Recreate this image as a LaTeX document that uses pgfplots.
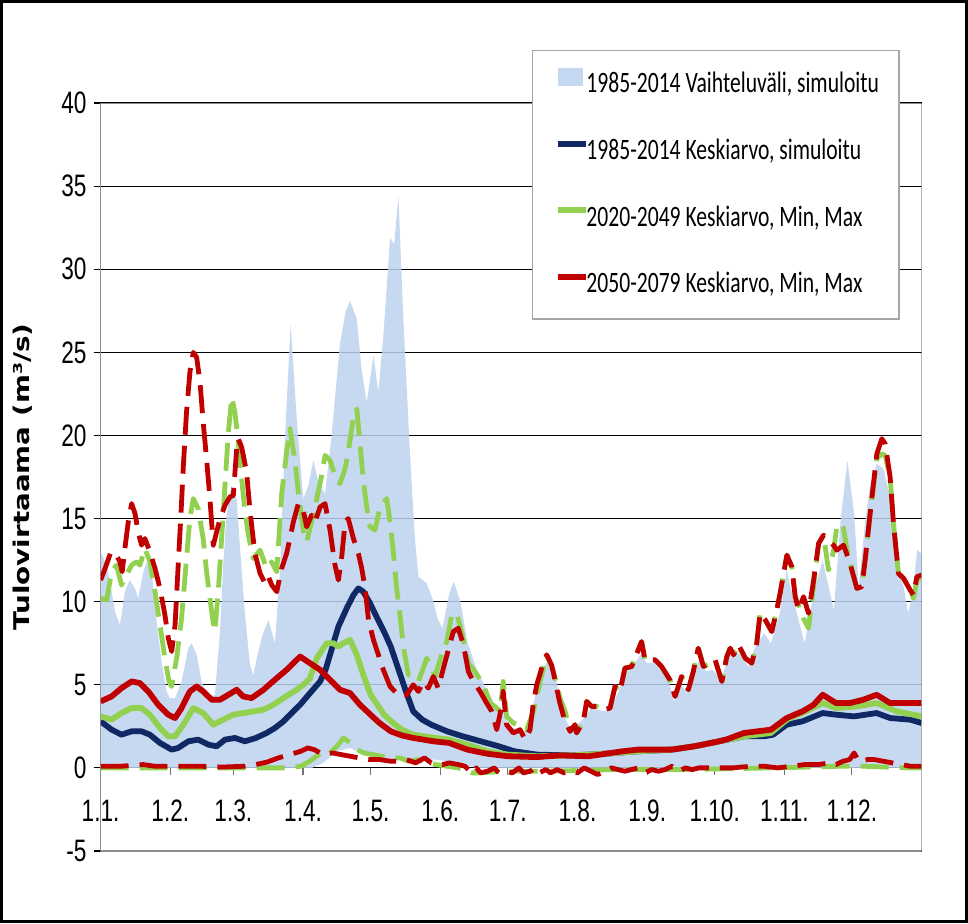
\documentclass[border=0pt]{standalone}
\usepackage{pgfplots}
\pgfplotsset{compat=1.18}
\usepgfplotslibrary{fillbetween}
\usepackage{pgfplotstable}
\usepackage{fontspec}
\setmainfont{Liberation Sans}
\newfontfamily\tickfont[FakeStretch=0.73]{Liberation Sans}
\newfontfamily\legfont[FakeStretch=0.73]{Carlito}
\newfontfamily\labfont{DejaVu Sans}
\definecolor{bandblue}{RGB}{188,210,239}
\definecolor{navy}{RGB}{16,40,100}
\definecolor{lgreen}{RGB}{146,208,80}
\definecolor{dred}{RGB}{192,0,0}

\pgfplotstableread[row sep=\\]{x y\\
1 13.0\\ 3.7 12.2\\ 5.9 10.6\\ 7.4 9.4\\ 9.6 8.6\\ 11.8 10.6\\ 14 11.3\\ 16.3 10.8\\ 17.7 10.2\\ 20 11.8\\
21.5 12.4\\ 23.7 11.8\\ 25.9 8.8\\ 28.1 6.4\\ 30.3 4.6\\ 31.8 4.2\\ 34.1 4.2\\ 37 5.2\\ 40 7.2\\ 41.5 7.5\\
43.7 6.8\\ 45.9 5.2\\ 48.9 4.2\\ 51.8 4.4\\ 54.1 8.2\\ 55.5 12.2\\ 57 15.2\\ 59.2 17.0\\ 61.5 16.2\\ 63 13.2\\
65.2 9.2\\ 67.4 6.2\\ 68.9 5.6\\ 71.1 7.0\\ 73 8.0\\ 75.6 8.9\\ 78.5 7.5\\ 80.8 12\\ 83 20\\ 85.5 26.7\\
88.2 21\\ 91.1 16.2\\ 93.4 17\\ 95.6 18.5\\ 97.8 17.2\\ 100.8 16.5\\ 103.7 20\\ 107.4 25.5\\ 110 27.5\\ 111.9 28.1\\
114.9 27\\ 117 24\\ 119.3 22\\ 122.3 24.8\\ 124.5 22.6\\ 126.7 26\\ 129.7 31.9\\ 131.5 31.5\\ 133.4 34.4\\ 135.6 27\\
138.5 19\\ 140.8 13.7\\ 142.3 11.5\\ 146 11.1\\ 149 10\\ 151 8.9\\ 153 8.4\\ 156 10.5\\ 158 11.2\\ 161 10\\
164 7.6\\ 168 6.0\\ 172.6 4.7\\ 175 4.2\\ 177 3.4\\ 180 3.6\\ 182 2.6\\ 186 2.3\\ 190 2.2\\ 193 3.5\\
196 5.5\\ 200 6.5\\ 203 5.8\\ 206 3.4\\ 210 2.3\\ 212 2.5\\ 216 3.0\\ 219 3.6\\ 222 3.5\\ 225 3.4\\
228 3.6\\ 231 4.5\\ 234 5.7\\ 237 6.0\\ 241 6.8\\ 244 6.3\\ 248 6.3\\ 251 5.9\\ 254 5.0\\ 256 4.0\\
259 5.0\\ 262 4.5\\ 265 5.5\\ 267 6.5\\ 270 5.8\\ 273 5.9\\ 277 5.3\\ 280 6.7\\ 285 6.9\\ 289 6.1\\
292 7.3\\ 296 8.1\\ 299 7.5\\ 303 9.3\\ 306 11.9\\ 309 10.1\\ 314 7.5\\ 318 10.5\\ 322 12.5\\ 327 9.5\\
330 14.9\\ 333 18.5\\ 336 15.3\\ 338 10.9\\ 341 14.9\\ 343 16.9\\ 346 18.3\\ 349 18.0\\ 352 16.3\\ 355 12.1\\
358 10.9\\ 360 9.3\\ 362 10.5\\ 364 13.1\\ 366 12.9\\
}\bandup

\pgfplotstableread[row sep=\\]{x y\\
1 0\\ 95 0\\ 100 0.3\\ 106 1.0\\ 112 1.2\\ 118 0.8\\ 125 0.6\\ 135 0.5\\ 150 0.5\\ 160 0.3\\ 168 0\\ 366 0\\
}\bandlo

\pgfplotstableread[row sep=\\]{x y\\
1 2.8\\ 5.9 2.3\\ 10.3 2.0\\ 14.8 2.2\\ 19.2 2.2\\ 22.9 2.0\\ 27.4 1.5\\ 32.6 1.1\\ 35.5 1.2\\ 40 1.6\\
44.4 1.7\\ 48.9 1.4\\ 52.6 1.3\\ 56.3 1.7\\ 60.7 1.8\\ 65.2 1.6\\ 70 1.8\\ 74.8 2.1\\ 78.5 2.4\\ 82.3 2.8\\
86 3.3\\ 89.7 3.8\\ 94.1 4.5\\ 98.6 5.2\\ 101 5.9\\ 103 6.8\\ 106.7 8.5\\ 110.4 9.6\\ 113.4 10.4\\ 115.6 10.8\\
117.8 10.6\\ 120.8 9.9\\ 124 9.0\\ 127 8.2\\ 130 7.3\\ 133 6.1\\ 137 4.5\\ 140 3.4\\ 144 2.9\\ 148 2.6\\
155 2.2\\ 162 1.9\\ 170 1.6\\ 178 1.3\\ 185 1.0\\ 195 0.8\\ 210 0.75\\ 225 0.85\\ 240 1.0\\ 255 1.1\\
265 1.3\\ 276 1.6\\ 287 1.9\\ 296 1.9\\ 300 2.0\\ 306 2.6\\ 313 2.8\\ 322 3.3\\ 328 3.2\\ 336 3.1\\
346 3.3\\ 352 3.0\\ 361 2.9\\ 366 2.7\\
}\bluemean

\pgfplotstableread[row sep=\\]{x y\\
1 3.1\\ 5.9 2.9\\ 10.3 3.3\\ 14.8 3.6\\ 19.2 3.6\\ 22.9 3.2\\ 27.4 2.4\\ 31.1 1.9\\ 34.1 1.9\\ 37.8 2.6\\
42.2 3.6\\ 46.6 3.3\\ 51.1 2.6\\ 55.5 2.9\\ 60 3.2\\ 64.4 3.3\\ 69 3.4\\ 73.4 3.5\\ 77.8 3.8\\ 82.3 4.2\\
88.2 4.7\\ 92 5.1\\ 94.1 5.4\\ 97.1 6.6\\ 101.5 7.5\\ 104.5 7.5\\ 106.7 7.3\\ 108.9 7.5\\ 111.9 7.7\\ 114.9 6.8\\
117.8 5.6\\ 121 4.4\\ 124 3.8\\ 127 3.2\\ 131 2.7\\ 135 2.3\\ 140 2.0\\ 145 1.9\\ 150 1.8\\ 156 1.7\\
164 1.4\\ 173 1.0\\ 182 0.8\\ 195 0.7\\ 210 0.75\\ 225 0.85\\ 240 1.0\\ 255 1.1\\ 265 1.3\\ 276 1.6\\
287 1.9\\ 299 2.1\\ 306 2.9\\ 313 3.3\\ 322 3.9\\ 328 3.6\\ 337 3.7\\ 346 3.9\\ 355 3.4\\ 366 3.1\\
}\greenmean

\pgfplotstableread[row sep=\\]{x y\\
1 4.0\\ 5.9 4.3\\ 10.3 4.8\\ 14.8 5.2\\ 18.5 5.1\\ 22.2 4.6\\ 26.6 3.8\\ 31.1 3.2\\ 34.1 3.0\\ 37 3.6\\
40.7 4.6\\ 43.7 4.9\\ 46.6 4.6\\ 50.4 4.1\\ 54.1 4.1\\ 57.8 4.4\\ 61.5 4.7\\ 64.4 4.3\\ 68.1 4.2\\ 73.4 4.7\\
79.3 5.4\\ 83.7 5.9\\ 86.7 6.3\\ 89.7 6.7\\ 94.1 6.3\\ 98.6 5.9\\ 103 5.3\\ 107.4 4.7\\ 111.9 4.5\\ 116.3 3.8\\
121 3.2\\ 125 2.7\\ 130 2.2\\ 135 1.95\\ 140 1.8\\ 149 1.6\\ 156 1.5\\ 164 1.1\\ 173 0.85\\ 182 0.7\\
195 0.65\\ 205 0.75\\ 218 0.7\\ 233 1.0\\ 240 1.1\\ 255 1.1\\ 265 1.3\\ 276 1.6\\ 279 1.7\\ 287 2.1\\
299 2.3\\ 306 3.0\\ 313 3.4\\ 318 3.8\\ 322 4.4\\ 328 3.9\\ 334 3.9\\ 340 4.1\\ 346 4.4\\ 352 3.9\\
361 3.9\\ 366 3.9\\
}\redmean

\pgfplotstableread[row sep=\\]{x y\\
1 11.3\\ 3 12.0\\ 5.6 13.0\\ 8 12.8\\ 9.6 12.4\\ 10.6 11.8\\ 11.8 13.2\\ 13.3 14.8\\ 14.8 15.9\\ 16.3 15.3\\
17.7 14.2\\ 19.2 13.4\\ 20.7 13.8\\ 22.9 13.0\\ 25.2 12.0\\ 27.4 10.8\\ 29.6 9.2\\ 31.1 7.8\\ 32.6 7.0\\ 34.1 8.6\\
35.5 12.2\\ 36.7 15.2\\ 37.8 18.2\\ 39.2 21.4\\ 40.7 23.8\\ 42.2 25.0\\ 43.7 24.7\\ 45.2 23.2\\ 46.6 20.8\\ 48.1 18.6\\
49.6 16.2\\ 51.1 13.4\\ 52.6 14.2\\ 54.1 15.0\\ 56.3 15.8\\ 58.5 16.3\\ 60 16.4\\ 61.5 19.2\\ 62.2 19.8\\ 63.7 19.3\\
65.9 17.8\\ 67.4 15.5\\ 69.6 12.9\\ 71.9 11.7\\ 74.1 11.1\\ 75.6 11.5\\ 77.1 11.0\\ 79.3 10.6\\ 81.5 12.0\\ 83.7 12.9\\
85.2 13.8\\ 86.7 14.8\\ 88.9 15.9\\ 91.1 15.5\\ 92.6 14.5\\ 94.8 15.2\\ 96.3 14.8\\ 98.6 15.7\\ 100.8 15.9\\ 103 14.3\\
105.2 12.2\\ 106.7 11.3\\ 108.2 12.7\\ 109.7 14.8\\ 111.1 15.0\\ 113.4 13.8\\ 115.6 12.9\\ 117.1 12.0\\ 118.6 10.8\\ 120.1 8.9\\
122.3 7.7\\ 124.5 6.8\\ 126.7 5.9\\ 129.7 4.9\\ 132.6 4.5\\ 134.1 4.3\\ 137.1 4.4\\ 140 5.0\\ 142.3 4.6\\ 144.5 5.2\\
146.7 4.8\\ 148.9 5.5\\ 151.1 4.8\\ 153.4 6.0\\ 155.6 7.1\\ 157.8 8.2\\ 160.0 8.4\\ 162.3 7.4\\ 164.5 5.8\\ 166.7 5.2\\
169.7 4.6\\ 172.6 3.9\\ 174.9 3.4\\ 177.1 2.3\\ 179.3 3.7\\ 180.0 4.6\\ 181.5 2.6\\ 184.5 2.1\\ 187.5 2.3\\ 189.7 1.7\\
191.9 2.3\\ 193.4 3.9\\ 194.9 5.0\\ 197.1 6.0\\ 199.3 6.8\\ 201.5 6.2\\ 203 5.3\\ 205 4.0\\ 207 3.0\\ 209.7 2.2\\
211.9 2.6\\ 212.6 2.1\\ 215.6 2.8\\ 217.1 4.0\\ 219.3 3.7\\ 221.5 3.7\\ 224.5 3.5\\ 227.5 3.6\\ 229.7 4.9\\ 231.9 4.6\\
234.1 6.0\\ 237.1 6.1\\ 241.5 7.6\\ 243 6.5\\ 247.5 6.5\\ 250.4 6.1\\ 254.1 5.3\\ 256.4 4.3\\ 259.3 5.5\\ 262.3 4.7\\
264.5 5.8\\ 266.7 7.2\\ 269 6.1\\ 272 6.3\\ 274.2 6.5\\ 277.2 5.2\\ 279.4 6.7\\ 280.9 7.2\\ 282.4 6.8\\ 284.6 7.4\\
287.6 6.6\\ 290.5 6.3\\ 292.7 7.5\\ 294.2 9.3\\ 296.5 8.9\\ 299.4 8.2\\ 301.6 9.5\\ 303.1 10.5\\ 306.1 12.8\\ 308.3 12.1\\
309.8 10.3\\ 311.3 9.5\\ 313.5 10.3\\ 315.7 9.3\\ 318 11.3\\ 320.2 13.5\\ 322.4 14.0\\ 324.6 13.7\\ 326.8 13.4\\ 328.3 13.1\\
331.3 13.4\\ 334.2 12.3\\ 337.2 10.8\\ 339.4 10.9\\ 340.9 12.5\\ 343.1 15.3\\ 346.1 18.9\\ 348.3 19.8\\ 349.8 19.5\\ 352 17.5\\
353.5 14.7\\ 355.7 11.7\\ 358 11.4\\ 360.9 10.7\\ 362.4 10.4\\ 363.9 11.5\\ 366 11.6\\
}\redmax

\pgfplotstableread[row sep=\\]{x y\\
1 10.2\\ 3.7 10.1\\ 5.9 11.8\\ 8.1 12.2\\ 10.3 11.0\\ 12.5 11.6\\ 14.8 12.2\\ 17 12.4\\ 18.5 12.2\\ 20.7 13.2\\
22.9 12.4\\ 25.2 10.6\\ 27.4 8.6\\ 29.6 6.6\\ 31.4 5.2\\ 32.6 4.9\\ 34.8 6.6\\ 37 9.0\\ 39.2 12.6\\ 40.7 15.0\\
42.2 16.2\\ 44.4 15.6\\ 46.6 13.8\\ 48.1 11.8\\ 49.6 10.2\\ 51.1 8.7\\ 51.8 8.2\\ 53.3 10.6\\ 54.8 13.8\\ 56.3 17.0\\
57.8 20.2\\ 59.3 22.3\\ 60.7 21.4\\ 62.2 19.6\\ 63.7 17.4\\ 65.2 15.4\\ 66.7 14.0\\ 68.9 12.6\\ 71.9 13.1\\ 74.8 12.0\\
77 12.4\\ 79.3 11.8\\ 81.5 16.5\\ 83.7 19.0\\ 85.2 20.4\\ 87.4 18.5\\ 88.9 16.6\\ 91.1 14.3\\ 92.6 13.6\\ 94.8 14.8\\
97.1 16.2\\ 99.3 17.6\\ 100.8 18.8\\ 103 18.5\\ 105.2 17.6\\ 107.4 17.1\\ 109.7 18.0\\ 111.1 19.0\\ 113.4 21.1\\ 114.9 21.6\\
116.3 19.5\\ 117.8 17.3\\ 119.3 15.7\\ 120.8 14.5\\ 123 14.3\\ 125.2 15.7\\ 128.2 16.2\\ 129.7 14.8\\ 131.2 12.9\\ 132.6 10.8\\
134.1 9.2\\ 135.6 7.3\\ 137.8 5.6\\ 140 5.5\\ 142.3 5.2\\ 146 6.6\\ 148.2 6.0\\ 149.7 5.5\\ 152.6 6.8\\ 154.9 7.6\\
157.1 9.2\\ 159.3 9.3\\ 161.5 8.2\\ 164.5 6.3\\ 167.4 5.8\\ 171.2 5.0\\ 174.1 3.9\\ 176.3 3.7\\ 178.6 3.4\\ 180.0 5.2\\
181.5 3.1\\ 184.5 2.7\\ 188.2 2.5\\ 190.4 2.3\\ 193.4 3.4\\ 196.4 5.2\\ 199.3 6.8\\ 202.3 5.8\\ 205.2 4.2\\ 207.5 3.4\\
209.7 2.2\\ 211.9 2.6\\ 212.6 2.1\\ 215.6 2.8\\ 217.1 4.0\\ 219.3 3.7\\ 221.5 3.7\\ 224.5 3.5\\ 227.5 3.6\\ 229.7 4.9\\
231.9 4.6\\ 234.1 6.0\\ 237.1 6.1\\ 241.5 7.6\\ 243 6.5\\ 247.5 6.5\\ 250.4 6.1\\ 254.1 5.3\\ 256.4 4.3\\ 259.3 5.5\\
262.3 4.7\\ 264.5 5.8\\ 266.7 7.2\\ 269 6.1\\ 272 6.3\\ 274.2 6.5\\ 277.2 5.2\\ 279.4 6.7\\ 280.9 7.2\\ 282.4 6.8\\
284.6 7.4\\ 287.6 6.6\\ 290.5 6.3\\ 292.7 7.5\\ 294.2 9.3\\ 296.5 8.9\\ 299.4 8.2\\ 301.6 9.5\\ 303.1 10.5\\ 306.1 12.8\\
308.3 12.1\\ 309.8 10.3\\ 311.3 9.8\\ 313.5 9.0\\ 315.7 8.4\\ 318 11.0\\ 320.2 13.5\\ 322.4 14.0\\ 324.6 11.9\\ 326.8 13.0\\
328.3 14.5\\ 330 14.7\\ 331.3 14.4\\ 333 13.0\\ 334.2 12.3\\ 337.2 10.8\\ 339.4 10.9\\ 340.9 12.5\\ 343.1 15.3\\ 346.1 18.6\\
348.3 18.9\\ 349.8 18.8\\ 352 17.5\\ 353.5 14.7\\ 355.7 11.7\\ 358 11.4\\ 360.9 10.7\\ 362.4 10.2\\ 363.9 11.3\\ 366 11.5\\
}\greenmax

\pgfplotstableread[row sep=\\]{x y\\
1 0.1\\ 10 0.1\\ 15 0.15\\ 20 0.2\\ 25 0.1\\ 35 0.1\\ 45 0.1\\ 55 0.05\\ 65 0.1\\ 70 0.2\\
75 0.35\\ 80 0.6\\ 85 0.8\\ 90 1.0\\ 93 1.2\\ 96 1.1\\ 100 0.8\\ 104 0.9\\ 108 0.8\\ 112 0.7\\
116 0.6\\ 120 0.5\\ 125 0.5\\ 130 0.4\\ 134 0.4\\ 137 0.5\\ 141 0.3\\ 145 0.6\\ 148 0.3\\ 153 0.2\\
156 0.3\\ 160 0.2\\ 163 0.1\\ 166 -0.3\\ 168 0\\ 170 -0.3\\ 173 -0.2\\ 176 0.0\\ 178 -0.3\\ 181 -0.2\\
184 -0.3\\ 187 0.0\\ 189 -0.3\\ 192 -0.2\\ 194 0.0\\ 196 -0.3\\ 199 -0.1\\ 201 -0.3\\ 204 -0.1\\ 207 -0.3\\
210 -0.2\\ 213 -0.3\\ 216 0.0\\ 219 -0.2\\ 222 -0.4\\ 225 -0.2\\ 228 0.0\\ 231 -0.1\\ 234 -0.2\\ 237 -0.1\\
240 0.0\\ 243 -0.3\\ 246 -0.1\\ 249 -0.2\\ 252 -0.1\\ 255 0.1\\ 258 -0.2\\ 261 0.0\\ 264 -0.1\\ 267 0.0\\
272 0.0\\ 276 0.0\\ 282 0.0\\ 290 0.1\\ 296 0.1\\ 302 0.0\\ 308 0.1\\ 314 0.2\\ 320 0.2\\ 325 0.3\\
328 0.2\\ 331 0.4\\ 334 0.5\\ 336 0.9\\ 338 0.4\\ 342 0.5\\ 345 0.5\\ 349 0.4\\ 353 0.3\\ 357 0.2\\
361 0.1\\ 366 0.1\\
}\redmin

\pgfplotstableread[row sep=\\]{x y\\
1 0.0\\ 85 0.0\\ 90 0.1\\ 94 0.4\\ 97 0.7\\ 100 1.0\\ 103 0.9\\ 106 1.3\\ 109 1.8\\ 112 1.5\\
115 1.1\\ 118 0.9\\ 122 0.8\\ 126 0.7\\ 130 0.6\\ 134 0.6\\ 138 0.4\\ 142 0.5\\ 146 0.3\\ 150 0.2\\
155 0.1\\ 160 0.0\\ 166 -0.3\\ 170 -0.3\\ 180 -0.2\\ 200 -0.2\\ 230 -0.1\\ 260 -0.1\\ 300 0.0\\ 330 0.1\\
340 0.1\\ 350 0.05\\ 360 0.0\\ 366 0.0\\
}\greenmin

\begin{document}
\begin{tikzpicture}
\begin{axis}[
  name=ax,
  scale only axis,
  width=410.5pt, height=374pt,
  xmin=1, xmax=366, ymin=-5, ymax=40,
  axis x line*=middle, axis y line*=left,
  hide obscured x ticks=false, hide obscured y ticks=false,
  x axis line style={black, line width=0.6pt},
  y axis line style={black!45, line width=0.8pt},
  xtick={1,32,60,91,121,152,182,213,244,274,305,335},
  xticklabels={1.1.,1.2.,1.3.,1.4.,1.5.,1.6.,1.7.,1.8.,1.9.,1.10.,1.11.,1.12.},
  ytick={-5,0,5,10,15,20,25,30,35,40},
  yticklabels={-5,0,5,10,15,20,25,30,35,40},
  tick align=outside,
  major tick length=3.5pt,
  xtick style={black!55, line width=0.6pt},
  ytick style={black, line width=0.6pt},
  xticklabel style={font=\tickfont\fontsize{15.5}{18}\selectfont, anchor=north, yshift=-9pt},
  yticklabel style={font=\tickfont\fontsize{15.5}{18}\selectfont, anchor=east},
  ymajorgrids, xmajorgrids=false,
  major grid style={black, line width=0.55pt},
  ylabel={\scalebox{1}[0.78]{\labfont\bfseries\fontsize{13.9}{16}\selectfont Tulovirtaama (m³/s)}},
  ylabel style={at={(axis description cs:-0.0945,0.5)}, anchor=center},
  legend style={at={(0.5255,1.0709)}, anchor=north west, draw=black!35, line width=0.6pt, fill=white,
    font=\legfont\fontsize{14.8}{17}\selectfont, inner xsep=11pt, inner ysep=8.7pt, row sep=17.8pt,
    nodes={inner xsep=-1pt, inner ysep=1pt, text height=10pt, text depth=3.5pt}},
  legend cell align=left,
  legend image code/.code={\draw[#1] (0pt,4.6pt) -- (14pt,4.6pt);},
  every axis plot/.append style={line join=round},
]
\addplot[name path=up, draw=none, forget plot] table {\bandup};
\addplot[name path=lo, draw=none, forget plot] table {\bandlo};
\addplot[fill=bandblue, fill opacity=0.85, draw=none,
  legend image code/.code={\fill[bandblue, fill opacity=0.85] (0pt,0pt) rectangle (12.5pt,9.2pt);}]
  fill between[of=up and lo];
\addlegendentry{1985-2014 Vaihteluväli, simuloitu}
\addplot[navy, line width=2.9pt] table {\bluemean};
\addlegendentry{1985-2014 Keskiarvo, simuloitu}
\addplot[lgreen, line width=2.9pt] table {\greenmean};
\addlegendentry{2020-2049 Keskiarvo, Min, Max}
\addplot[lgreen, line width=2.4pt, dash pattern=on 14pt off 5.5pt, forget plot] table {\greenmax};
\addplot[lgreen, line width=2.4pt, dash pattern=on 14pt off 5.5pt, forget plot] table {\greenmin};
\addplot[dred, line width=2.9pt] table {\redmean};
\addlegendentry{2050-2079 Keskiarvo, Min, Max}
\addplot[dred, line width=2.4pt, dash pattern=on 14pt off 5.5pt, forget plot] table {\redmax};
\addplot[dred, line width=2.4pt, dash pattern=on 14pt off 5.5pt, forget plot] table {\redmin};
\draw[black!45, line width=0.8pt] (rel axis cs:0,0) rectangle (rel axis cs:1,1);
\end{axis}
\pgfresetboundingbox
\useasboundingbox ([shift={(-50.3pt,-36pt)}]ax.south west) rectangle ([shift={(433.7pt,425.5pt)}]ax.south west);
\draw[line width=1.6pt] ([shift={(-49.5pt,-35.2pt)}]ax.south west) rectangle ([shift={(432.9pt,424.7pt)}]ax.south west);
\end{tikzpicture}
\end{document}
